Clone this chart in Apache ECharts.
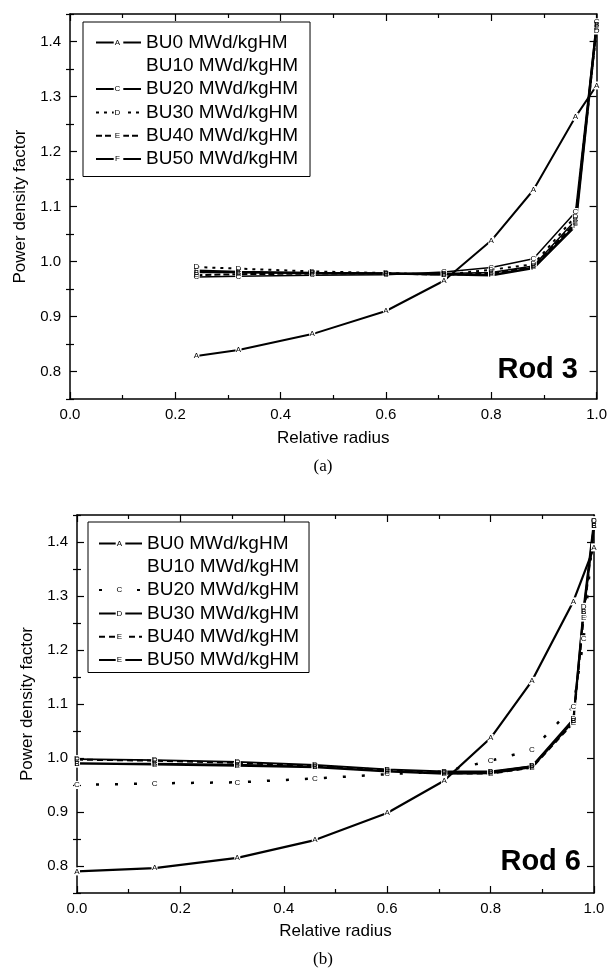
<!DOCTYPE html>
<html>
<head>
<meta charset="utf-8">
<script src="https://cdn.jsdelivr.net/npm/echarts@6/dist/echarts.min.js"></script>
<style>
  html, body { margin: 0; padding: 0; background: #fff; }
  #chart { width: 610px; height: 970px; }
</style>
</head>
<body>
<div id="chart"></div>
<script>
// tick labels
const xTicks = [0, 0.2, 0.4, 0.6, 0.8, 1.0]
const yTicks = [0.8, 0.9, 1.0, 1.1, 1.2, 1.3, 1.4]

const seriesNames = ['BU0 MWd/kgHM', 'BU10 MWd/kgHM', 'BU20 MWd/kgHM', 'BU30 MWd/kgHM', 'BU40 MWd/kgHM', 'BU50 MWd/kgHM']

// Rod 3 (a)
const rod3XBU0 = [0.24, 0.32, 0.46, 0.60, 0.71, 0.80, 0.88, 0.96, 1.00]
const rod3BU0 = [0.828, 0.839, 0.868, 0.910, 0.965, 1.038, 1.130, 1.263, 1.320]
const rod3X = [0.24, 0.32, 0.46, 0.60, 0.71, 0.80, 0.88, 0.96, 1.00]
const rod3BU10 = [0.980, 0.980, 0.979, 0.978, 0.978, 0.980, 0.992, 1.075, 1.430]
const rod3BU20 = [0.972, 0.973, 0.975, 0.976, 0.981, 0.989, 1.005, 1.090, 1.435]
const rod3BU30 = [0.990, 0.987, 0.982, 0.979, 0.976, 0.985, 0.995, 1.082, 1.420]
const rod3BU40 = [0.975, 0.977, 0.978, 0.978, 0.976, 0.978, 0.990, 1.070, 1.425]
const rod3BU50 = [0.983, 0.981, 0.979, 0.978, 0.977, 0.975, 0.988, 1.065, 1.430]
const rod3Letters = ['A', 'B', 'C', 'D', 'E', 'F']
const rod3LegendLetters = ['A', '', 'C', 'D', 'E', 'F']

// Rod 6 (b)
const rod6XBU0 = [0.00, 0.15, 0.31, 0.46, 0.60, 0.71, 0.80, 0.88, 0.96, 1.00]
const rod6BU0 = [0.790, 0.796, 0.815, 0.848, 0.898, 0.958, 1.037, 1.143, 1.290, 1.390]
const rod6X = [0.00, 0.15, 0.31, 0.46, 0.60, 0.71, 0.80, 0.88, 0.96, 0.98, 1.00]
const rod6BU10 = [0.990, 0.990, 0.988, 0.984, 0.976, 0.972, 0.974, 0.985, 1.068, 1.270, 1.430]
const rod6BU20 = [0.950, 0.953, 0.955, 0.962, 0.970, 0.975, 0.995, 1.015, 1.095, 1.220, 1.440]
const rod6BU30 = [0.998, 0.996, 0.993, 0.987, 0.979, 0.975, 0.975, 0.985, 1.072, 1.280, 1.440]
const rod6BU40 = [0.997, 0.995, 0.991, 0.985, 0.978, 0.972, 0.971, 0.982, 1.065, 1.260, 1.430]
const rod6BU50 = [0.990, 0.988, 0.986, 0.983, 0.975, 0.971, 0.972, 0.983, 1.068, 1.270, 1.430]
const rod6Letters = ['A', 'B', 'C', 'D', 'E', 'E']
const rod6LegendLetters = ['A', '', 'C', 'D', 'E', 'E']

// line styles per panel
const rod3Styles = [
  { width: 2, type: 'solid' },
  { width: 1.5, type: 'solid' },
  { width: 1.5, type: 'solid' },
  { width: 2, type: [3, 5] },
  { width: 2, type: [6, 3] },
  { width: 2.5, type: 'solid' }
]
const rod6Styles = [
  { width: 2.2, type: 'solid' },
  { width: 1.5, type: 'solid' },
  { width: 2.5, type: [3, 16] },
  { width: 1.8, type: 'solid' },
  { width: 2, type: [6, 4] },
  { width: 2.2, type: 'solid' }
]

const black = '#000'
const font = 'Liberation Sans'

const chart = echarts.init(document.getElementById('chart'))

const xAxes = (grid, nameGap) => {
  const base = {
    gridIndex: grid,
    type: 'value',
    min: 0,
    max: 1,
    interval: 0.2,
    axisLine: { show: true, onZero: false, lineStyle: { color: black, width: 1.5 } },
    axisTick: { inside: true, length: 7, lineStyle: { color: black, width: 1.2 } },
    minorTick: { show: true, splitNumber: 2, length: 4, lineStyle: { color: black, width: 1.2 } },
    splitLine: { show: false }
  }
  return [
    {
      ...base,
      position: 'bottom',
      name: 'Relative radius',
      nameLocation: 'middle',
      nameGap,
      nameTextStyle: { fontSize: 17, color: black, fontFamily: font },
      axisLabel: { customValues: xTicks, fontSize: 15, color: black, margin: 8, formatter: v => v.toFixed(1) }
    },
    { ...base, position: 'top', axisLabel: { show: false } }
  ]
}

const yAxes = (grid, nameGap) => {
  const main = {
    gridIndex: grid,
    type: 'value',
    min: 0.75,
    max: 1.45,
    interval: 0.05,
    axisLine: { show: true, onZero: false, lineStyle: { color: black, width: 1.5 } },
    axisTick: { inside: true, length: 7, customValues: yTicks, lineStyle: { color: black, width: 1.2 } },
    splitLine: { show: false }
  }
  const minor = {
    gridIndex: grid,
    type: 'value',
    min: 0.75,
    max: 1.45,
    interval: 0.1,
    axisLine: { show: false },
    axisTick: { inside: true, length: 4, lineStyle: { color: black, width: 1.2 } },
    axisLabel: { show: false },
    splitLine: { show: false }
  }
  return [
    {
      ...main,
      position: 'left',
      name: 'Power density factor',
      nameLocation: 'middle',
      nameRotate: 90,
      nameGap,
      nameTextStyle: { fontSize: 17, color: black, fontFamily: font },
      axisLabel: { customValues: yTicks, fontSize: 15, color: black, margin: 9, formatter: v => v.toFixed(1) }
    },
    { ...minor, position: 'left' },
    { ...main, position: 'right', axisLabel: { show: false } },
    { ...minor, position: 'right' }
  ]
}

const makeSeries = (name, xs, ys, style, letter, grid) => ({
  name,
  type: 'line',
  xAxisIndex: grid * 2,
  yAxisIndex: grid * 4,
  data: xs.map((x, i) => [x, ys[i]]),
  symbol: 'rect',
  symbolSize: [6, 8],
  showSymbol: true,
  itemStyle: { color: '#fff', borderWidth: 0 },
  lineStyle: { color: black, width: style.width, type: style.type },
  label: { show: true, position: 'inside', formatter: letter, fontSize: 8, color: black, fontFamily: font },
  emphasis: { disabled: true },
  silent: true
})

const rod3Data = [rod3BU0, rod3BU10, rod3BU20, rod3BU30, rod3BU40, rod3BU50]
const rod6Data = [rod6BU0, rod6BU10, rod6BU20, rod6BU30, rod6BU40, rod6BU50]
const rod6Names = seriesNames.map(n => n + '#b')

const series = [
  ...seriesNames.map((n, i) => makeSeries(n, i === 0 ? rod3XBU0 : rod3X, rod3Data[i], rod3Styles[i], rod3Letters[i], 0)),
  ...rod6Names.map((n, i) => makeSeries(n, i === 0 ? rod6XBU0 : rod6X, rod6Data[i], rod6Styles[i], rod6Letters[i], 1))
]

// legend layout
const legendText = 19
const legendGap = 4.3
const makeLegend = (names, left, top, padding, itemWidth) => ({
  orient: 'vertical',
  left,
  top,
  padding,
  itemWidth,
  itemHeight: 12,
  itemGap: legendGap,
  borderColor: black,
  borderWidth: 1,
  selectedMode: false,
  formatter: n => n.replace('#b', ''),
  textStyle: { fontSize: legendText, lineHeight: legendText, color: black, fontFamily: font },
  data: names.map((n, i) => i === 1 ? { name: n, itemStyle: { opacity: 0 }, lineStyle: { opacity: 0 } } : n)
})

const legendLetters = (letters, cx, firstY) => letters
  .map((l, i) => ({ l, i }))
  .filter(d => d.l)
  .map(d => ({
    type: 'text',
    x: cx,
    y: firstY + d.i * (legendText + legendGap),
    z: 100,
    style: { text: d.l, font: '8px ' + font, fill: black, align: 'center', verticalAlign: 'middle' }
  }))

const option = {
  animation: false,
  textStyle: { fontFamily: font },
  grid: [
    { left: 70, top: 14, width: 530, height: 385 },
    { left: 77, top: 515, width: 517, height: 378 }
  ],
  xAxis: [...xAxes(0, 31), ...xAxes(1, 29.5)],
  yAxis: [...yAxes(0, 38.5), ...yAxes(1, 40.5)],
  legend: [
    makeLegend(seriesNames, 83, 22, [11, 12, 8, 12], 45),
    makeLegend(rod6Names, 88, 522, [12, 10, 3, 10], 43)
  ],
  graphic: [
    ...legendLetters(rod3LegendLetters, 117.5, 22 + 11 + legendText / 2),
    ...legendLetters(rod6LegendLetters, 119.5, 522 + 12 + legendText / 2),
    { type: 'text', x: 578, y: 370, z: 100, style: { text: 'Rod 3', font: 'bold 29px ' + font, fill: black, align: 'right', verticalAlign: 'middle' } },
    { type: 'text', x: 581, y: 862, z: 100, style: { text: 'Rod 6', font: 'bold 29px ' + font, fill: black, align: 'right', verticalAlign: 'middle' } },
    { type: 'text', x: 323, y: 467, style: { text: '(a)', font: '17px Liberation Serif', fill: black, align: 'center', verticalAlign: 'middle' } },
    { type: 'text', x: 323, y: 960, style: { text: '(b)', font: '17px Liberation Serif', fill: black, align: 'center', verticalAlign: 'middle' } }
  ],
  series
}

chart.setOption(option)
</script>
</body>
</html>
